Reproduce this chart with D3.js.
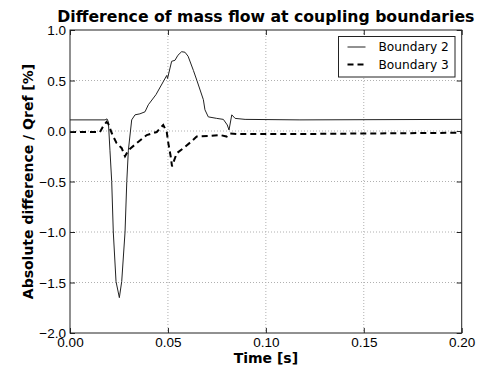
<!DOCTYPE html>
<html>
<head>
<meta charset="utf-8">
<script src="https://cdn.jsdelivr.net/npm/d3@7"></script>
<style>
  body { margin: 0; background: #fff; }
  svg { display: block; font-family: "DejaVu Sans", sans-serif; }
  .tick text { font-size: 13.5px; fill: #000; }
  .grid line { stroke: #b0b0b0; stroke-dasharray: 1,2; }
</style>
</head>
<body>
<div id="plotSect"></div>
<script>
// Boundary 2 (solid) //
let b2_time = [0.0000, 0.0179, 0.0189, 0.0196, 0.0204, 0.0213, 0.0221, 0.0235, 0.0252, 0.0264,
    0.0281, 0.0290, 0.0298, 0.0315, 0.0332, 0.0357, 0.0383, 0.0400, 0.0439, 0.0494,
    0.0498, 0.0519, 0.0536, 0.0551, 0.0570, 0.0587, 0.0603, 0.0630, 0.0648, 0.0681,
    0.0689, 0.0706, 0.0749, 0.0783, 0.0803, 0.0812, 0.0826, 0.0843, 0.0894, 0.1174, 0.2000];
let b2_diff = [0.11, 0.11, 0.12, 0.09, -0.19, -0.50, -1.00, -1.49, -1.65, -1.49,
    -1.00, -0.50, -0.19, 0.11, 0.16, 0.17, 0.19, 0.26, 0.36, 0.55,
    0.52, 0.69, 0.70, 0.75, 0.785, 0.78, 0.74, 0.60, 0.50, 0.31,
    0.21, 0.14, 0.125, 0.115, 0.06, 0.01, 0.16, 0.125, 0.115, 0.11, 0.115];

// Boundary 3 (dashed) //
let b3_time = [0.0000, 0.0153, 0.0170, 0.0187, 0.0196, 0.0213, 0.0221, 0.0238, 0.0264, 0.0281,
    0.0298, 0.0341, 0.0392, 0.0443, 0.0476, 0.0494, 0.0502, 0.0514, 0.0521, 0.0545,
    0.0579, 0.0613, 0.0647, 0.0706, 0.0766, 0.0800, 0.0817, 0.0851, 0.1174, 0.2000];
let b3_diff = [-0.01, -0.01, 0.05, 0.09, 0.07, -0.02, -0.055, -0.12, -0.17, -0.25,
    -0.19, -0.12, -0.04, -0.01, 0.06, -0.01, -0.12, -0.25, -0.35, -0.22,
    -0.17, -0.115, -0.055, -0.05, -0.04, -0.055, -0.025, -0.03, -0.03, -0.017];

let xTicks = [0.00, 0.05, 0.10, 0.15, 0.20];
let yTicks = [-2.0, -1.5, -1.0, -0.5, 0.0, 0.5, 1.0];
let legendNames = ["Boundary 2", "Boundary 3"];

// chart setup //

let SVGwidth = 480,
SVGheight = 367,
margin = {top: 30, right: 18.3, bottom: 34, left: 70},
width = SVGwidth - margin.left - margin.right,
height = SVGheight - margin.top - margin.bottom;

let svg = d3.select("#plotSect").append("svg")
    .attr("width", SVGwidth)
    .attr("height", SVGheight)
    .append("g")
    .attr("transform", "translate(" + margin.left + "," + margin.top + ")");

let xScale = d3.scaleLinear().domain([0, 0.2]).range([0, width]);
let yScale = d3.scaleLinear().domain([-2, 1]).range([height, 0]);

// grid //
svg.append("g")
    .attr("class", "grid")
    .selectAll("line")
    .data(xTicks.slice(1, -1))
    .enter().append("line")
    .attr("x1", d => xScale(d)).attr("x2", d => xScale(d))
    .attr("y1", 0).attr("y2", height);

svg.append("g")
    .attr("class", "grid")
    .selectAll("line")
    .data(yTicks.slice(1, -1))
    .enter().append("line")
    .attr("x1", 0).attr("x2", width)
    .attr("y1", d => yScale(d)).attr("y2", d => yScale(d));

// lines //
let line = d3.line()
    .x(d => xScale(d[0]))
    .y(d => yScale(d[1]));

svg.append("path")
    .datum(d3.zip(b2_time, b2_diff))
    .attr("fill", "none")
    .attr("stroke", "#222")
    .attr("stroke-width", 1)
    .attr("d", line);

svg.append("path")
    .datum(d3.zip(b3_time, b3_diff))
    .attr("fill", "none")
    .attr("stroke", "#000")
    .attr("stroke-width", 2)
    .attr("stroke-dasharray", "6,4")
    .attr("d", line);

// axes, ticks point inward //
let fmtX = d3.format(".2f"), fmtY = d3.format(".1f");

let xAxis = svg.append("g")
    .attr("transform", "translate(0," + height + ")")
    .call(d3.axisBottom(xScale).tickValues(xTicks).tickFormat(fmtX).tickSize(-5).tickSizeOuter(0).tickPadding(4.5));
let yAxis = svg.append("g")
    .call(d3.axisLeft(yScale).tickValues(yTicks).tickFormat(fmtY).tickSize(-5).tickSizeOuter(0).tickPadding(4));
let xTop = svg.append("g")
    .call(d3.axisTop(xScale).tickValues(xTicks).tickFormat("").tickSize(-5).tickSizeOuter(0));
let yRight = svg.append("g")
    .attr("transform", "translate(" + width + ",0)")
    .call(d3.axisRight(yScale).tickValues(yTicks).tickFormat("").tickSize(-5).tickSizeOuter(0));

[xAxis, yAxis, xTop, yRight].forEach(function(a) {
    a.select(".domain").remove();
    a.selectAll(".tick line").attr("stroke", "#222");
});
yAxis.selectAll(".tick text").attr("dy", "0.34em");

svg.append("rect")
    .attr("width", width)
    .attr("height", height)
    .attr("fill", "none")
    .attr("stroke", "#222")
    .attr("stroke-width", 1);

// labels //
svg.append("text")
    .attr("x", width / 2)
    .attr("y", -8)
    .style("text-anchor", "middle")
    .style("font-weight", "bold")
    .style("font-size", "15.7px")
    .text("Difference of mass flow at coupling boundaries");

svg.append("text")
    .attr("x", width / 2)
    .attr("y", height + 29.5)
    .style("text-anchor", "middle")
    .style("font-weight", "bold")
    .style("font-size", "14px")
    .text("Time [s]");

svg.append("text")
    .attr("transform", "translate(-37," + (height / 2) + ") rotate(-90)")
    .style("text-anchor", "middle")
    .style("font-weight", "bold")
    .style("font-size", "14px")
    .text("Absolute difference / Qref [%]");

// legend //
let legendBox = {x: 268.5, y: 6.5, w: 116.5, h: 40.5};
svg.append("rect")
    .attr("x", legendBox.x)
    .attr("y", legendBox.y)
    .attr("width", legendBox.w)
    .attr("height", legendBox.h)
    .attr("fill", "#fff")
    .attr("stroke", "#222")
    .attr("stroke-width", 1);

let legend = svg.selectAll(".legend")
    .data(legendNames)
    .enter().append("g")
    .attr("class", "legend")
    .attr("transform", function(d, i) { return "translate(" + legendBox.x + "," + (legendBox.y + 10.5 + i * 17.6) + ")"; });

legend.append("line")
    .attr("x1", 9).attr("x2", 27)
    .attr("stroke", function(d, i) { return i == 0 ? "#222" : "#000"; })
    .attr("stroke-width", function(d, i) { return i == 0 ? 1 : 2; })
    .attr("stroke-dasharray", function(d, i) { return i == 0 ? null : "6,4"; });

legend.append("text")
    .attr("x", 40)
    .attr("dy", "0.35em")
    .style("font-size", "12.2px")
    .text(function(d) { return d; });
</script>
</body>
</html>
